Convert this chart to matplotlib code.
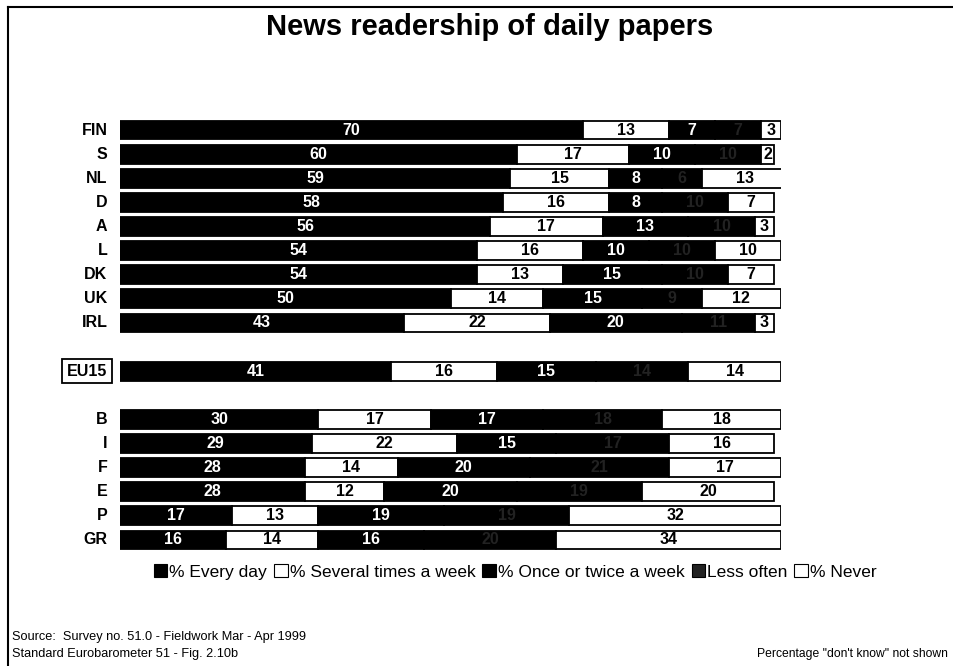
import numpy as np
import matplotlib.pyplot as plt
from matplotlib.patches import Patch
from matplotlib.lines import Line2D

plt.rcParams['font.family'] = ['Liberation Sans', 'DejaVu Sans']

# Countries top to bottom, EU15 average sits between the two groups
countries = ["FIN", "S", "NL", "D", "A", "L", "DK", "UK", "IRL",
             "EU15",
             "B", "I", "F", "E", "P", "GR"]
row_pos = [0, 1, 2, 3, 4, 5, 6, 7, 8, 10, 12, 13, 14, 15, 16, 17]

every_day = [70, 60, 59, 58, 56, 54, 54, 50, 43, 41, 30, 29, 28, 28, 17, 16]
several = [13, 17, 15, 16, 17, 16, 13, 14, 22, 16, 17, 22, 14, 12, 13, 14]
once_twice = [7, 10, 8, 8, 13, 10, 15, 15, 20, 15, 17, 15, 20, 20, 19, 16]
less_often = [7, 10, 6, 10, 10, 10, 10, 9, 11, 14, 18, 17, 21, 19, 19, 20]
never = [3, 2, 13, 7, 3, 10, 7, 12, 3, 14, 18, 16, 17, 20, 32, 34]

series = [every_day, several, once_twice, less_often, never]
face = ["black", "white", "black", "black", "white"]
txt_col = ["white", "black", "white", "#222222", "black"]
legend_face = ["black", "white", "black", "#222222", "white"]
legend_labels = ["% Every day", "% Several times a week",
                 "% Once or twice a week", "Less often", "% Never"]

fig = plt.figure(figsize=(9.54, 6.66), dpi=100)
ax = fig.add_axes([120 / 954, 1 - 552 / 666, 661 / 954, 434 / 666])

left = np.zeros(len(countries))
for vals, fc, tc in zip(series, face, txt_col):
    vals = np.array(vals, dtype=float)
    ax.barh(row_pos, vals, left=left, height=0.78, color=fc,
            edgecolor="black", linewidth=1.3)
    for y, l, v in zip(row_pos, left, vals):
        ax.text(l + v / 2, y, f"{int(v)}", ha="center", va="center",
                color=tc, fontsize=11.5, fontweight="bold")
    left += vals

ax.set_xlim(0, 100)
ax.set_ylim(17.5, -0.5)
ax.axis("off")

# Country labels; EU15 gets a box
for name, y in zip(countries, row_pos):
    if name == "EU15":
        ax.text(-1.9, y, name, ha="right", va="center", fontsize=11.5,
                fontweight="bold",
                bbox=dict(boxstyle="square,pad=0.3", fc="white",
                          ec="black", lw=1.3))
    else:
        ax.text(-1.9, y, name, ha="right", va="center", fontsize=11.5,
                fontweight="bold")

fig.text(0.513, 1 - 27 / 666, "News readership of daily papers",
         ha="center", va="center", fontsize=21, fontweight="bold")

handles = [Patch(facecolor=fc, edgecolor="black", linewidth=0.8)
           for fc in legend_face]
fig.legend(handles, legend_labels, loc="center", ncol=5,
           bbox_to_anchor=(0.54, 1 - 572 / 666), frameon=False,
           fontsize=12.5, handlelength=0.8, handleheight=0.8,
           handletextpad=0.1, columnspacing=0.4)

fig.text(12 / 954, 1 - 637 / 666,
         "Source:  Survey no. 51.0 - Fieldwork Mar - Apr 1999",
         ha="left", va="center", fontsize=9.2)
fig.text(12 / 954, 1 - 654 / 666,
         "Standard Eurobarometer 51 - Fig. 2.10b",
         ha="left", va="center", fontsize=9.2)
fig.text(948 / 954, 1 - 654 / 666,
         'Percentage "don\'t know" not shown',
         ha="right", va="center", fontsize=8.7)

# Page frame: top and left rules
fig.add_artist(Line2D([8 / 954, 1.0], [1 - 7 / 666, 1 - 7 / 666],
                      color="black", lw=1.5))
fig.add_artist(Line2D([8 / 954, 8 / 954], [1 - 7 / 666, 0.0],
                      color="black", lw=1.5))

fig.savefig("out.png", dpi=100)
